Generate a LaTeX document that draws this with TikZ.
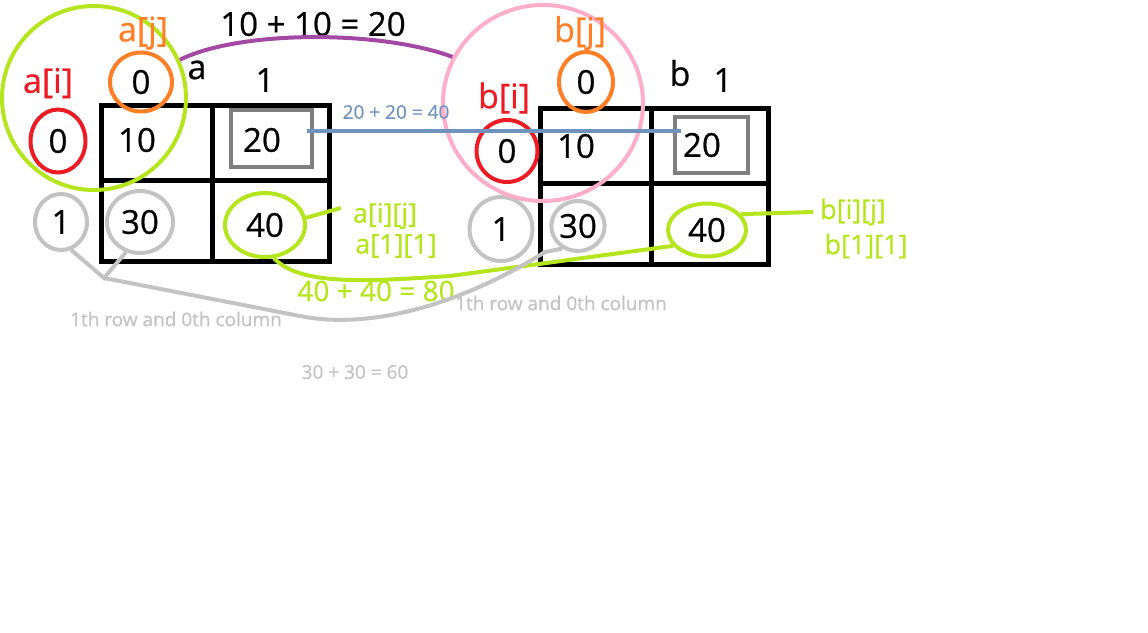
\documentclass[tikz,border=0pt]{standalone}
\usepackage{fontspec}
\setmainfont{Open Sans}[UprightFeatures={FakeBold=0.6}]
\usetikzlibrary{shapes.geometric}
\definecolor{lime}{RGB}{181,230,29}
\definecolor{orangec}{RGB}{255,127,39}
\definecolor{redc}{RGB}{237,28,36}
\definecolor{pinkc}{RGB}{255,174,201}
\definecolor{purplec}{RGB}{163,73,164}
\definecolor{bluec}{RGB}{112,146,190}
\definecolor{lgray}{RGB}{195,195,195}
\definecolor{boxgray}{RGB}{127,127,127}

\begin{document}
\begin{tikzpicture}[x=0.5pt,y=-0.5pt,
    ring/.style={draw=#1,ellipse,line width=2pt,inner sep=0pt},
    grid/.style={line width=2.5pt},
    cellbox/.style={draw=boxgray,line width=2pt,inner sep=0pt},
    big/.style={font=\fontsize{16.5}{19}\selectfont},
    lbl/.style={font=\fontsize{17}{20}\selectfont},
    mid/.style={font=\fontsize{13.5}{15}\selectfont,text=lime},
    note/.style={font=\fontsize{9.5}{11}\selectfont}]
  \useasboundingbox[fill=white] (0,0) rectangle (1148,633);
  %
  \foreach \dx/\dy in {0/0,439/3}{%
    \draw[grid] (101+\dx,105+\dy) rectangle (329+\dx,261+\dy);%
    \draw[grid] (212+\dx,105+\dy) -- (212+\dx,264+\dy);%
    \draw[grid] (101+\dx,180+\dy) -- (329+\dx,180+\dy);%
  }
  % table a
  \node[big] (a10) at (137,140) {10};%
  \node[cellbox,minimum width=40.5pt,minimum height=28.5pt] (abox) at (271.5,138.5) {};%
  \node[big] (a20) at (262,140) {20};%
  \node[ring=lgray,minimum width=33pt,minimum height=31pt,big] (a30) at (140,222) {30};%
  \node[ring=lime,minimum width=40pt,minimum height=32pt,big] (a40) at (265,225) {40};%
  \node[ring=orangec,minimum width=31pt,minimum height=29.5pt,big] (aj0) at (141,82) {0};%
  \node[ring=redc,minimum width=27.5pt,minimum height=31.5pt,big] (ai0) at (58,141) {0};%
  \node[ring=lgray,minimum width=26pt,minimum height=28pt,big] (ai1) at (61,222) {1};%
  \node[ring=lime,minimum width=92pt,minimum height=92pt] (acorner) at (94,98) {};%
  \node[lbl,text=orangec] (aj) at (143,33) {a[j]};%
  \node[lbl,text=redc] (ai) at (48,83) {a[i]};%
  \node[lbl] (aname) at (197,70) {a};%
  \node[big] (acol1) at (265,80) {1};%
  \node[mid] (aij) at (385,216) {a[i][j]};%
  \node[mid] (a11) at (396,246) {a[1][1]};%
  % table b
  \node[big] (b10) at (576,146) {10};%
  \node[cellbox,minimum width=36.5pt,minimum height=28pt] (bbox) at (711.5,145) {};%
  \node[big] (b20) at (702,145) {20};%
  \node[ring=lgray,minimum width=26pt,minimum height=25pt,big] (b30) at (578,226) {30};%
  \node[ring=lime,minimum width=39pt,minimum height=26.5pt,big] (b40) at (707,230) {40};%
  \node[ring=orangec,minimum width=27pt,minimum height=30pt,big] (bj0) at (586,82) {0};%
  \node[ring=redc,minimum width=30.5pt,minimum height=31pt,big] (bi0) at (507,151) {0};%
  \node[ring=lgray,minimum width=31.5pt,minimum height=32pt,big] (bi1) at (501,229) {1};%
  \node[ring=pinkc,minimum width=100pt,minimum height=98pt] (bcorner) at (543,103) {};%
  \node[lbl,text=orangec] (bj) at (580,33) {b[j]};%
  \node[lbl,text=redc] (bi) at (504,98) {b[i]};%
  \node[lbl] (bname) at (680,73) {b};%
  \node[big] (bcol1) at (723,80) {1};%
  \node[mid] (bij) at (853,212) {b[i][j]};%
  \node[mid] (b11) at (866,246) {b[1][1]};%
  % sums
  \node[big] (sum10) at (313,24) {10 + 10 = 20};%
  \node[note,text=bluec] (sum20) at (396,112) {20 + 20 = 40};%
  \node[font=\fontsize{14}{16}\selectfont,text=lime] (sum40) at (376,291) {40 + 40 = 80};%
  \node[note,text=lgray] (sum30) at (355,372) {30 + 30 = 60};%
  \node[note,text=lgray] (rowa) at (176,319) {1th row and 0th column};%
  \node[note,text=lgray] (rowb) at (561,303) {1th row and 0th column};%
  % links
  \coordinate (ja) at (104,278);%
  \coordinate (jb) at (545,252);%
  \draw[purplec,line width=2pt] (acorner.24) .. controls (240,30) and (380,30) .. (bcorner.153);%
  \draw[bluec,line width=2pt] ([shift={(-7,-7.5)}]abox.east) -- ([shift={(8,-14)}]bbox.west);%
  \draw[lime,line width=2pt] (a40.10) -- ([shift={(-5,-8)}]aij.west);%
  \draw[lime,line width=2pt] (b40.25) -- (bij.west);%
  \draw[lime,line width=2pt] (a40.-75) .. controls (300,285) and (360,282) .. (450,276) -- (b40.205);%
  \draw[lgray,line width=2pt] (ai1.-70) -- (ja) -- (a30.-115);%
  \draw[lgray,line width=2pt] (ja) -- (300,316) .. controls (370,330) and (460,305) .. (jb) -- (b30.-125);%
\end{tikzpicture}
\end{document}
